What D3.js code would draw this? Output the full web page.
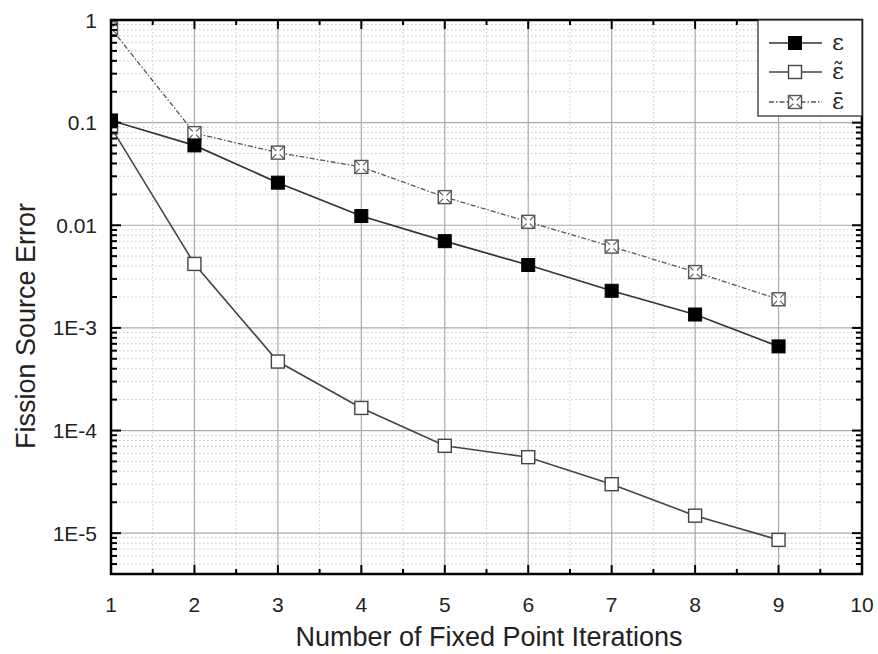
<!DOCTYPE html>
<html>
<head>
<meta charset="utf-8">
<script src="https://cdn.jsdelivr.net/npm/d3@7"></script>
<style>
  html, body { margin: 0; padding: 0; background: #fff; }
  svg { display: block; }
</style>
</head>
<body>
<svg id="chart" width="878" height="654"></svg>
<script>
// ---- data ----
const iterations = [1, 2, 3, 4, 5, 6, 7, 8, 9];
const epsValues      = [0.105, 0.060, 0.026, 0.0123, 0.0070, 0.0041, 0.0023, 0.00135, 0.00066];
const epsTildeValues = [0.090, 0.0042, 0.00047, 0.000166, 0.000071, 0.000055, 0.000030, 0.0000148, 0.0000086];
const epsBarValues   = [0.83, 0.079, 0.051, 0.037, 0.0188, 0.0108, 0.0062, 0.0035, 0.0019];
const legendLabels = ["\u03b5", "\u03b5\u0303", "\u03b5\u0304"];
const xTickValues = [1, 2, 3, 4, 5, 6, 7, 8, 9, 10];
const yTickValues = [1, 0.1, 0.01, 1e-3, 1e-4, 1e-5];
const yTickLabels = ["1", "0.1", "0.01", "1E-3", "1E-4", "1E-5"];
const xTitle = "Number of Fixed Point Iterations";
const yTitle = "Fission Source Error";

// ---- layout ----
const L = 111, R = 862, T = 20, B = 574;
const svg = d3.select("#chart");
const x = d3.scaleLinear().domain([1, 10]).range([L, R]);
const y = d3.scaleLog().domain([4e-6, 1]).range([B, T]);

// minor values
const yMinor = [];
for (let e = -6; e <= -1; e++) for (let m = 2; m <= 9; m++) {
  const v = m * Math.pow(10, e);
  if (v >= 4e-6 && v < 1) yMinor.push(v);
}
const xMinor = d3.range(1.5, 10, 1);

// ---- grid ----
const grid = svg.append("g");
grid.selectAll(".gxm").data(xMinor).join("line")
  .attr("x1", d => x(d)).attr("x2", d => x(d)).attr("y1", T).attr("y2", B)
  .attr("stroke", "#c8c8c8").attr("stroke-width", 1).attr("stroke-dasharray", "1.5,2.5");
grid.selectAll(".gym").data(yMinor).join("line")
  .attr("y1", d => y(d)).attr("y2", d => y(d)).attr("x1", L).attr("x2", R)
  .attr("stroke", "#c8c8c8").attr("stroke-width", 1).attr("stroke-dasharray", "1.5,2.5");
grid.selectAll(".gx").data(xTickValues.slice(1, -1)).join("line")
  .attr("x1", d => x(d)).attr("x2", d => x(d)).attr("y1", T).attr("y2", B)
  .attr("stroke", "#aaaaaa").attr("stroke-width", 1.2);
grid.selectAll(".gy").data(yTickValues.slice(1)).join("line")
  .attr("y1", d => y(d)).attr("y2", d => y(d)).attr("x1", L).attr("x2", R)
  .attr("stroke", "#aaaaaa").attr("stroke-width", 1.2);

// ---- series ----
svg.append("clipPath").attr("id", "plotclip")
  .append("rect").attr("x", L).attr("y", T).attr("width", R - L).attr("height", B - T);
const plot = svg.append("g").attr("clip-path", "url(#plotclip)");

const series = [
  { name: "eps", values: epsValues, stroke: "#333", width: 1.7, dash: null, marker: "filled" },
  { name: "epsTilde", values: epsTildeValues, stroke: "#444", width: 1.6, dash: null, marker: "open" },
  { name: "epsBar", values: epsBarValues, stroke: "#555", width: 1.3, dash: "5,2,1.5,2", marker: "cross" }
];
const line = d3.line().x(d => x(d[0])).y(d => y(d[1]));
const MS = 13;

function drawMarker(g, cx, cy, type, s) {
  const h = s / 2;
  if (type === "filled") {
    g.append("rect").attr("x", cx - h).attr("y", cy - h).attr("width", s).attr("height", s)
      .attr("fill", "#000").attr("stroke", "#000").attr("stroke-width", 1);
  } else if (type === "open") {
    g.append("rect").attr("x", cx - h).attr("y", cy - h).attr("width", s).attr("height", s)
      .attr("fill", "#fff").attr("stroke", "#444").attr("stroke-width", 1.4);
  } else {
    g.append("rect").attr("x", cx - h).attr("y", cy - h).attr("width", s).attr("height", s)
      .attr("fill", "#fff").attr("stroke", "#555").attr("stroke-width", 1.4);
    g.append("path").attr("d", `M${cx - h},${cy - h}L${cx + h},${cy + h}M${cx + h},${cy - h}L${cx - h},${cy + h}`)
      .attr("stroke", "#555").attr("stroke-width", 1.1);
    g.append("rect").attr("x", cx - 2).attr("y", cy - 2).attr("width", 4).attr("height", 4)
      .attr("fill", "#fff").attr("stroke", "none");
  }
}

series.forEach(s => {
  const pts = iterations.map((it, i) => [it, s.values[i]]);
  plot.append("path").datum(pts).attr("d", line)
    .attr("fill", "none").attr("stroke", s.stroke).attr("stroke-width", s.width)
    .attr("stroke-dasharray", s.dash);
});
series.slice().reverse().forEach(s => {
  const g = plot.append("g");
  iterations.forEach((it, i) => drawMarker(g, x(it), y(s.values[i]), s.marker, MS));
});

// ---- axes ----
const ax = svg.append("g");
const tickColor = "#000";
xTickValues.forEach(v => {
  ax.append("line").attr("x1", x(v)).attr("x2", x(v)).attr("y1", B).attr("y2", B - 9).attr("stroke", tickColor).attr("stroke-width", 2);
  ax.append("line").attr("x1", x(v)).attr("x2", x(v)).attr("y1", T).attr("y2", T + 9).attr("stroke", tickColor).attr("stroke-width", 2);
});
xMinor.forEach(v => {
  ax.append("line").attr("x1", x(v)).attr("x2", x(v)).attr("y1", B).attr("y2", B - 5).attr("stroke", tickColor).attr("stroke-width", 2);
  ax.append("line").attr("x1", x(v)).attr("x2", x(v)).attr("y1", T).attr("y2", T + 5).attr("stroke", tickColor).attr("stroke-width", 2);
});
yTickValues.forEach(v => {
  ax.append("line").attr("y1", y(v)).attr("y2", y(v)).attr("x1", L).attr("x2", L + 10).attr("stroke", tickColor).attr("stroke-width", 2);
  ax.append("line").attr("y1", y(v)).attr("y2", y(v)).attr("x1", R).attr("x2", R - 10).attr("stroke", tickColor).attr("stroke-width", 2);
});
yMinor.forEach(v => {
  ax.append("line").attr("y1", y(v)).attr("y2", y(v)).attr("x1", L).attr("x2", L + 6).attr("stroke", tickColor).attr("stroke-width", 2);
  ax.append("line").attr("y1", y(v)).attr("y2", y(v)).attr("x1", R).attr("x2", R - 6).attr("stroke", tickColor).attr("stroke-width", 2);
});
ax.append("rect").attr("x", L).attr("y", T).attr("width", R - L).attr("height", B - T)
  .attr("fill", "none").attr("stroke", "#000").attr("stroke-width", 2.5);

// tick labels
const font = "'Liberation Sans', Arial, sans-serif";
svg.append("g").selectAll("text").data(xTickValues).join("text")
  .attr("x", d => x(d)).attr("y", 612).attr("text-anchor", "middle")
  .attr("font-family", font).attr("font-size", 21).attr("fill", "#222")
  .text(d => String(d));
svg.append("g").selectAll("text").data(yTickValues).join("text")
  .attr("x", 97).attr("y", d => y(d) + 7.5).attr("text-anchor", "end")
  .attr("font-family", font).attr("font-size", 21).attr("fill", "#222")
  .text((d, i) => yTickLabels[i]);

// axis titles
svg.append("text").attr("x", 489).attr("y", 646).attr("text-anchor", "middle")
  .attr("font-family", font).attr("font-size", 27).attr("fill", "#222").text(xTitle);
svg.append("text").attr("transform", `translate(35,326) rotate(-90)`)
  .attr("text-anchor", "middle").attr("font-family", font).attr("font-size", 27).attr("fill", "#222").text(yTitle);

// ---- legend ----
const lg = svg.append("g");
lg.append("rect").attr("x", 758).attr("y", T).attr("width", R - 758).attr("height", 96)
  .attr("fill", "#fff").attr("stroke", "#333").attr("stroke-width", 1.3);
const legendY = [43, 72, 102];
series.forEach((s, i) => {
  const ly = legendY[i];
  lg.append("line").attr("x1", 769).attr("x2", 822).attr("y1", ly).attr("y2", ly)
    .attr("stroke", s.stroke).attr("stroke-width", s.width).attr("stroke-dasharray", s.dash);
  drawMarker(lg, 795, ly, s.marker, MS);
  lg.append("text").attr("x", 832).attr("y", ly + 7).attr("font-family", "'DejaVu Serif', 'Liberation Serif', serif")
    .attr("font-size", 23).attr("fill", "#222").text(legendLabels[i]);
});
</script>
</body>
</html>
